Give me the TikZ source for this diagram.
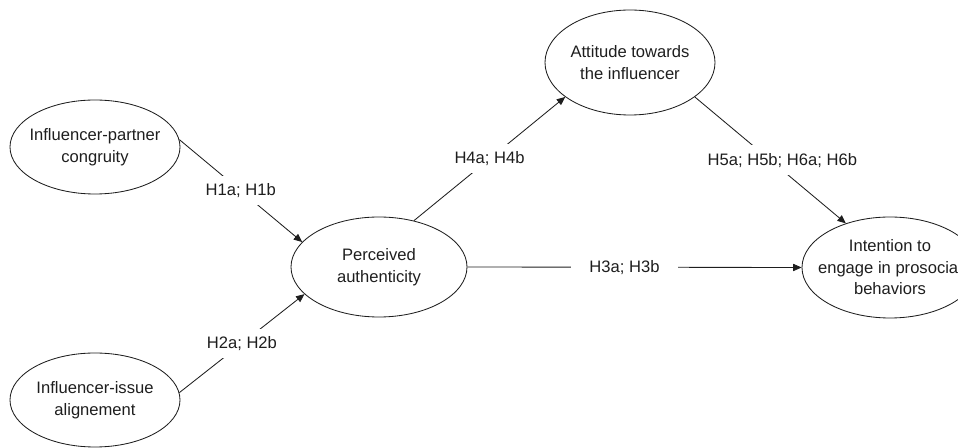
\documentclass[tikz,border=0pt]{standalone}
\usepackage{fontspec}
\setmainfont{Liberation Sans}
\usepackage{tikz}
\usetikzlibrary{arrows.meta,shapes.geometric}
\definecolor{pathink}{RGB}{30,30,30}
\tikzset{
  construct/.style={ellipse,draw=pathink,line width=0.6pt,inner sep=0pt},
  constructtext/.style={align=center,font=\fontsize{11.8}{15.3}\selectfont,text=pathink},
  hypo/.style={draw=pathink,line width=0.6pt,-{Triangle[length=2.1mm,width=1.8mm]}},
  hypolabel/.style={fill=white,font=\fontsize{11.8}{14}\selectfont,text=pathink,inner xsep=0.45cm,inner ysep=0.19cm}
}
\begin{document}
\begin{tikzpicture}
\useasboundingbox (0,0) rectangle (23.95,11.2);
\clip (0,0) rectangle (23.95,11.2);
% LEFT: the two antecedents
\node[construct,minimum width=4.25cm,minimum height=2.35cm,
  label={[constructtext]center:Influencer-partner\\congruity}] (congruity) at (2.375,7.525) {};
\node[construct,minimum width=4.25cm,minimum height=2.35cm,
  label={[constructtext]center:Influencer-issue\\alignement}] (alignement) at (2.375,1.2) {};
% MIDDLE: mediator
\node[construct,minimum width=4.4cm,minimum height=2.5cm,
  label={[constructtext]center:Perceived\\authenticity}] (perceived) at (9.475,4.525) {};
% TOP: attitude
\node[construct,minimum width=4.25cm,minimum height=2.625cm,
  label={[constructtext]center:Attitude towards\\the influencer}] (attitude) at (15.75,9.6375) {};
% RIGHT: outcome (cut by the page edge)
\node[construct,minimum width=4.4cm,minimum height=2.525cm,
  label={[constructtext]center:Intention to\\engage in prosocial\\behaviors}] (intention) at (22.25,4.5125) {};

% Hypothesised paths
\draw[hypo] (congruity.5) -- node[hypolabel] {H1a; H1b} (perceived.162);
\draw[hypo] (alignement.5) -- node[hypolabel] {H2a; H2b} (perceived.200);
\draw[hypo] (perceived.east) -- node[hypolabel,pos=0.47] {H3a; H3b} (intention.west);
\draw[hypo] (perceived.53) -- node[hypolabel] {H4a; H4b} (attitude.208);
\draw[hypo] (attitude.332) -- node[hypolabel,xshift=0.3cm] {H5a; H5b; H6a; H6b} (intention.135);
\end{tikzpicture}
\end{document}
